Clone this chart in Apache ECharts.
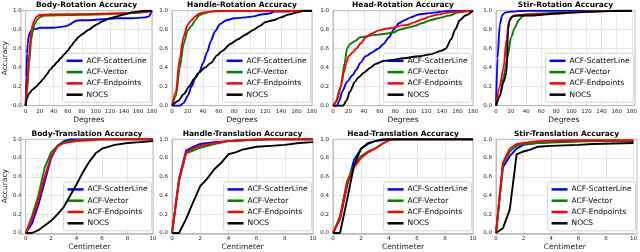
<!DOCTYPE html>
<html><head><meta charset="utf-8">
<script src="https://cdn.jsdelivr.net/npm/echarts@6/dist/echarts.min.js"></script>
<style>html,body{margin:0;padding:0;background:#fff}#c{width:640px;height:252px}</style>
</head><body><div id="c"></div>
<script>
const seriesNames = ['ACF-ScatterLine','ACF-Vector','ACF-Endpoints','NOCS'];
const titles = ['Body-Rotation Accuracy','Handle-Rotation Accuracy','Head-Rotation Accuracy','Stir-Rotation Accuracy',
  'Body-Translation Accuracy','Handle-Translation Accuracy','Head-Translation Accuracy','Stir-Translation Accuracy'];
const rotTicks = [0,20,40,60,80,100,120,140,160,180];
const transTicks = [0,2,4,6,8,10];
const yTicks = [0.0,0.2,0.4,0.6,0.8,1.0];

// Body rotation
const bodyRotScatter = [[0,0],[1,0.3],[2,0.55],[3,0.65],[4,0.72],[6,0.77],[8,0.79],[10,0.8],[15,0.81],[20,0.82],[30,0.82],[40,0.82],[50,0.83],[56,0.835],[60,0.845],[64,0.86],[68,0.88],[72,0.895],[78,0.9],[90,0.9],[110,0.91],[130,0.92],[150,0.92],[170,0.93],[176,0.94],[178,0.97],[180,1.0]];
const bodyRotVector = [[0,0],[2,0.15],[5,0.45],[8,0.7],[10,0.78],[13,0.86],[16,0.9],[20,0.93],[25,0.945],[30,0.95],[60,0.955],[100,0.96],[140,0.97],[165,0.98],[180,1.0]];
const bodyRotEnd = [[0,0],[2,0.2],[5,0.55],[8,0.78],[10,0.85],[13,0.91],[16,0.94],[20,0.955],[30,0.96],[100,0.965],[140,0.975],[165,0.985],[180,1.0]];
const bodyRotNocs = [[0,0],[2,0.08],[5,0.13],[10,0.17],[15,0.2],[20,0.24],[25,0.28],[30,0.33],[35,0.38],[40,0.42],[45,0.46],[50,0.5],[55,0.54],[60,0.58],[65,0.63],[70,0.68],[75,0.72],[80,0.75],[90,0.8],[100,0.85],[110,0.89],[120,0.92],[130,0.94],[140,0.96],[150,0.98],[160,0.99],[170,1.0],[180,1.0]];

// Handle rotation
const handleRotScatter = [[0,0],[10,0],[15,0.03],[20,0.1],[25,0.2],[30,0.29],[35,0.35],[40,0.45],[45,0.56],[50,0.68],[55,0.78],[62,0.86],[70,0.9],[80,0.92],[95,0.93],[105,0.94],[115,0.96],[125,0.97],[132,0.99],[150,0.99],[165,1.0],[180,1.0]];
const handleRotVector = [[0,0],[5,0.1],[10,0.4],[15,0.65],[20,0.79],[25,0.84],[30,0.9],[35,0.95],[40,0.97],[50,0.99],[60,1.0],[180,1.0]];
const handleRotEnd = [[0,0],[5,0.15],[10,0.5],[15,0.73],[20,0.85],[25,0.9],[30,0.94],[35,0.97],[40,0.98],[50,0.99],[70,1.0],[180,1.0]];
const handleRotNocs = [[0,0],[8,0.05],[15,0.12],[22,0.2],[28,0.28],[35,0.35],[42,0.4],[50,0.45],[58,0.53],[65,0.58],[75,0.65],[85,0.7],[95,0.75],[105,0.8],[113,0.84],[120,0.88],[130,0.9],[140,0.93],[150,0.96],[160,0.98],[170,1.0],[180,1.0]];

// Head rotation
const headRotScatter = [[0,0],[5,0],[8,0.05],[12,0.15],[18,0.25],[25,0.32],[30,0.38],[35,0.45],[42,0.52],[50,0.56],[58,0.6],[65,0.65],[72,0.72],[78,0.8],[85,0.87],[92,0.9],[100,0.93],[110,0.96],[120,0.97],[130,0.98],[140,0.99],[150,1.0],[180,1.0]];
const headRotVector = [[0,0],[3,0.03],[10,0.2],[15,0.45],[18,0.6],[22,0.65],[28,0.68],[35,0.72],[42,0.73],[50,0.74],[60,0.75],[70,0.76],[78,0.77],[85,0.8],[95,0.82],[105,0.84],[115,0.87],[125,0.9],[135,0.92],[150,0.95],[160,0.98],[175,1.0],[180,1.0]];
const headRotEnd = [[0,0],[5,0.05],[10,0.2],[14,0.35],[17,0.45],[20,0.52],[25,0.56],[30,0.6],[36,0.66],[42,0.72],[50,0.76],[58,0.79],[68,0.81],[78,0.82],[85,0.84],[95,0.85],[105,0.88],[115,0.91],[125,0.94],[135,0.96],[148,0.98],[160,0.99],[180,1.0]];
const headRotNocs = [[0,0],[13,0],[17,0.05],[22,0.15],[28,0.25],[33,0.3],[40,0.35],[48,0.4],[55,0.44],[65,0.47],[75,0.48],[90,0.5],[110,0.52],[125,0.54],[140,0.58],[145,0.6],[152,0.7],[157,0.8],[163,0.9],[170,0.95],[180,1.0]];

// Stir rotation
const stirRotScatter = [[0,0],[2,0.5],[5,0.85],[8,0.95],[12,0.98],[20,0.99],[40,1.0],[180,1.0]];
const stirRotVector = [[0,0],[5,0.1],[10,0.3],[15,0.5],[20,0.72],[25,0.82],[30,0.9],[35,0.94],[40,0.96],[60,0.97],[80,0.98],[120,0.99],[160,1.0],[180,1.0]];
const stirRotEnd = [[0,0],[5,0.2],[10,0.4],[14,0.7],[17,0.88],[20,0.93],[25,0.95],[40,0.96],[80,0.97],[120,0.99],[160,1.0],[180,1.0]];
const stirRotNocs = [[0,0],[5,0.1],[10,0.25],[14,0.35],[16,0.8],[18,0.9],[22,0.94],[30,0.95],[50,0.95],[65,0.96],[80,0.97],[100,0.98],[130,0.99],[170,1.0],[180,1.0]];

// Body translation
const bodyTransScatter = [[0,0],[0.5,0.1],[1,0.3],[1.5,0.55],[2,0.8],[2.5,0.93],[3,0.98],[3.5,1.0],[10,1.0]];
const bodyTransVector = [[0,0],[0.5,0.18],[1,0.4],[1.5,0.7],[2,0.86],[2.5,0.93],[3,0.97],[4,0.99],[5,1.0],[10,1.0]];
const bodyTransEnd = [[0,0],[0.5,0.15],[1,0.35],[1.5,0.6],[2,0.82],[2.5,0.92],[3,0.96],[4,0.98],[5,0.99],[6,1.0],[10,1.0]];
const bodyTransNocs = [[0,0],[0.5,0],[1,0.03],[1.5,0.08],[2,0.13],[2.5,0.2],[3,0.28],[3.5,0.4],[4,0.52],[4.5,0.65],[5,0.76],[5.5,0.85],[6,0.9],[7,0.94],[8,0.96],[9,0.97],[10,0.98]];

// Handle translation
const handleTransScatter = [[0,0],[0.5,0.58],[1,0.88],[1.5,0.92],[2,0.95],[3,0.97],[4,0.98],[5,0.99],[7,1.0],[10,1.0]];
const handleTransVector = [[0,0],[0.5,0.55],[1,0.85],[1.5,0.88],[2,0.91],[3,0.95],[4,0.98],[5,0.99],[7,1.0],[10,1.0]];
const handleTransEnd = [[0,0],[0.5,0.57],[1,0.86],[1.5,0.9],[2,0.93],[3,0.96],[4,0.98],[5,0.99],[6,1.0],[10,1.0]];
const handleTransNocs = [[0,0],[0.5,0],[1,0.15],[1.5,0.33],[2,0.5],[2.5,0.58],[3,0.68],[3.5,0.75],[4,0.84],[4.5,0.86],[5,0.89],[6,0.92],[7,0.93],[8,0.94],[9,0.96],[10,0.97]];

// Head translation
const headTransScatter = [[0,0],[0.5,0.15],[1,0.5],[1.5,0.78],[2,0.9],[2.5,0.95],[3,0.98],[4,1.0],[10,1.0]];
const headTransVector = [[0,0],[0.5,0.18],[1,0.55],[1.5,0.72],[2,0.82],[2.5,0.87],[3,0.9],[3.5,0.95],[4,0.99],[4.5,1.0],[10,1.0]];
const headTransEnd = [[0,0],[0.5,0.15],[1,0.52],[1.5,0.7],[2,0.8],[2.5,0.86],[3,0.9],[3.5,0.95],[4,0.99],[4.5,1.0],[10,1.0]];
const headTransNocs = [[0,0],[0.5,0],[1,0.35],[1.5,0.72],[2,0.9],[2.5,0.96],[3,0.98],[3.5,1.0],[10,1.0]];

// Stir translation
const stirTransScatter = [[0,0],[0.5,0.7],[1,0.82],[1.5,0.9],[2,0.94],[3,0.96],[4,0.97],[6,0.98],[10,0.98]];
const stirTransVector = [[0,0],[0.5,0.73],[1,0.87],[1.5,0.93],[2,0.95],[3,0.96],[5,0.97],[7,0.98],[10,0.98]];
const stirTransEnd = [[0,0],[0.5,0.75],[1,0.9],[1.5,0.95],[2,0.96],[3,0.98],[5,0.99],[10,0.99]];
const stirTransNocs = [[0,0],[0.5,0.05],[1,0.25],[1.5,0.84],[2,0.87],[2.5,0.89],[3,0.92],[4,0.93],[6,0.94],[7,0.95],[10,0.96]];

const panelData = [
  [bodyRotScatter, bodyRotVector, bodyRotEnd, bodyRotNocs],
  [handleRotScatter, handleRotVector, handleRotEnd, handleRotNocs],
  [headRotScatter, headRotVector, headRotEnd, headRotNocs],
  [stirRotScatter, stirRotVector, stirRotEnd, stirRotNocs],
  [bodyTransScatter, bodyTransVector, bodyTransEnd, bodyTransNocs],
  [handleTransScatter, handleTransVector, handleTransEnd, handleTransNocs],
  [headTransScatter, headTransVector, headTransEnd, headTransNocs],
  [stirTransScatter, stirTransVector, stirTransEnd, stirTransNocs]
];

// layout (pixels)
const boxes = [
  [21,10.7,131,95],[172,10.7,140,95],[333,10.7,140,95],[496,10.7,139,95],
  [21,139.3,132,95],[172,139.3,141,95],[333,139.3,140,95],[496,139.3,141,95]
];
const colors = ['#0000ff','#008000','#ff0000','#000000'];
const FONT = 'DejaVu Sans';

const grid=[], xAxis=[], yAxis=[], title=[], legend=[], series=[];
boxes.forEach((b,i)=>{
  const rot = i<4;
  grid.push({left:b[0], top:b[1], width:b[2], height:b[3], containLabel:false, show:false});
  const ticks = rot?rotTicks:transTicks;
  xAxis.push({type:'value', gridIndex:i, min:ticks[0], max:ticks[ticks.length-1], interval:ticks[1]-ticks[0],
    name: rot?'Degrees':'Centimeter', nameLocation:'middle', nameGap:10,
    nameTextStyle:{fontFamily:FONT, fontSize:7.5, color:'#222'},
    axisLine:{show:true, onZero:false, lineStyle:{color:'#bbbbbb', width:1}},
    axisTick:{show:false},
    axisLabel:{fontFamily:FONT, fontSize:5.5, color:'#222', margin:2.5},
    splitLine:{show:true, lineStyle:{color:'#e0e0e0', width:0.8}}
  });
  yAxis.push({type:'value', gridIndex:i, min:0, max:1, interval:0.2,
    name: (i%4===0)?'Accuracy':'', nameLocation:'middle', nameGap:13,
    nameTextStyle:{fontFamily:FONT, fontSize:7.5, color:'#222'},
    axisLine:{show:true, lineStyle:{color:'#bbbbbb', width:1}},
    axisTick:{show:false},
    axisLabel:{fontFamily:FONT, fontSize:5.5, color:'#222', margin:4, formatter:v=>v.toFixed(1)},
    splitLine:{show:true, lineStyle:{color:'#e0e0e0', width:0.8}}
  });
  title.push({text:titles[i], left:b[0]+b[2]/2, top: rot?1.5:130, textAlign:'center', padding:0,
    textStyle:{fontFamily:FONT, fontSize:7.5, fontWeight:'bold', color:'#000'}});
  legend.push({data:seriesNames, orient:'vertical', right: 640-(b[0]+b[2])+1.5, bottom: 252-(b[1]+b[3])+3.5,
    selectedMode:false, icon:'rect', itemWidth:16, itemHeight:2.5, itemGap:2.3, padding:[3,4,3,4],
    backgroundColor:'rgba(255,255,255,0.85)', borderColor:'#cccccc', borderWidth:0.8, borderRadius:2.5,
    textStyle:{fontFamily:FONT, fontSize:7.5, color:'#000', lineHeight:9, padding:[0,0,0,-1]}});
  panelData[i].forEach((d,k)=>{
    series.push({type:'line', name:seriesNames[k], xAxisIndex:i, yAxisIndex:i, data:d,
      showSymbol:false, symbol:'none', smooth: rot?0.25:false, smoothMonotone:'x',
      lineStyle:{color:colors[k], width:1.9}, itemStyle:{color:colors[k]}, z:2+k, silent:true, animation:false});
  });
});
const graphic = boxes.map(b=>({type:'rect', shape:{x:b[0], y:b[1], width:b[2], height:b[3]}, z:1,
  style:{fill:'none', stroke:'#bbbbbb', lineWidth:1}, silent:true}));

const chart = echarts.init(document.getElementById('c'), null, {renderer:'canvas'});
chart.setOption({animation:false, backgroundColor:'#fff', grid, xAxis, yAxis, title, legend, series, graphic});
</script></body></html>
